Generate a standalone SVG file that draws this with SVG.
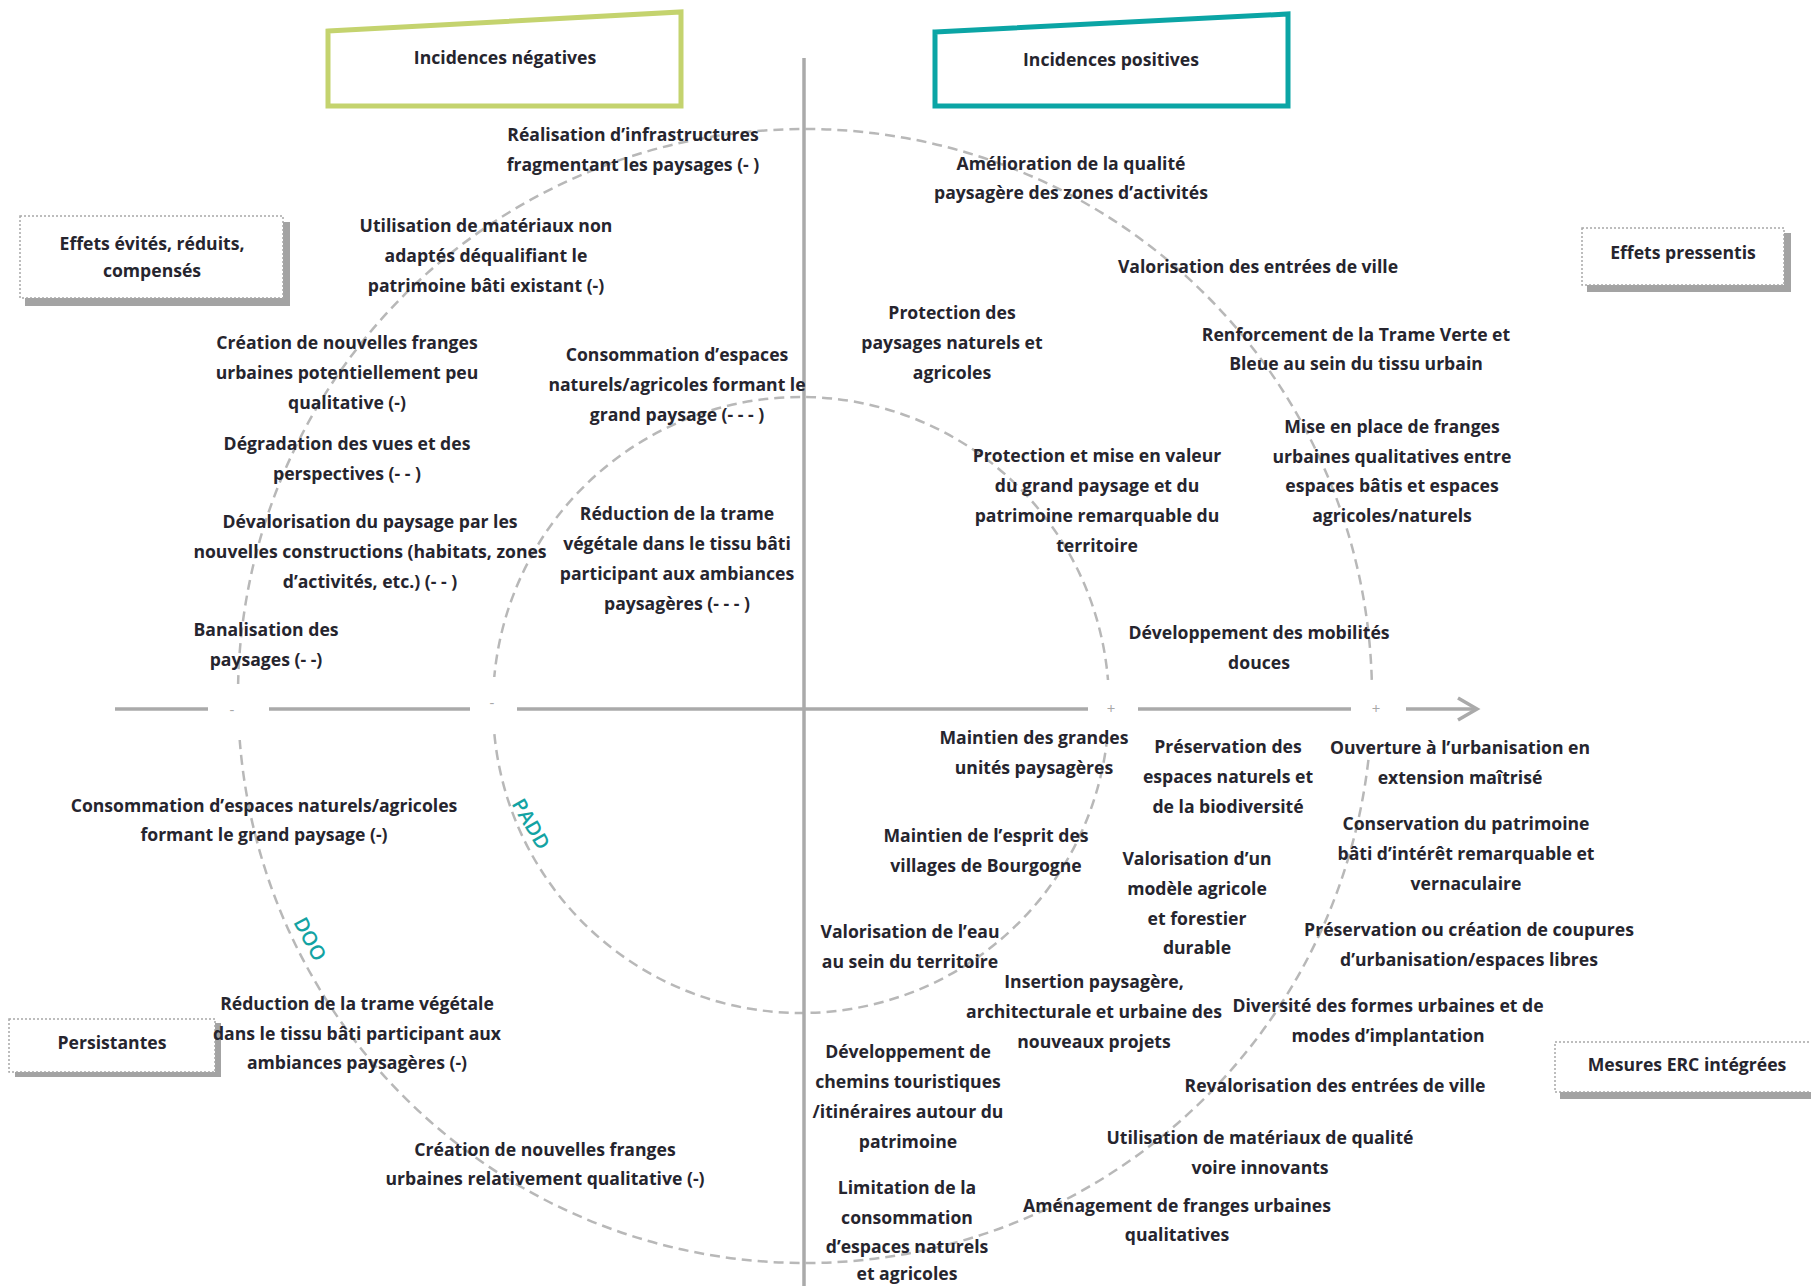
<svg xmlns="http://www.w3.org/2000/svg" width="1811" height="1286" viewBox="0 0 1811 1286">
<style>
.t{font-family:"Open Sans","Liberation Sans",sans-serif;font-size:17.6px;font-weight:700;fill:#26252e;text-anchor:middle}
.lab{font-family:"Open Sans","Liberation Sans",sans-serif;font-size:20px;font-weight:600;fill:#13a3a3;text-anchor:middle}
.mk{font-family:"Open Sans","Liberation Sans",sans-serif;font-size:15px;fill:#a8a8a8;text-anchor:middle}
.circ{fill:none;stroke:#b8b8b8;stroke-width:2.5;stroke-dasharray:10 6}
.axis{stroke:#aaaaaa;stroke-width:3.5;fill:none}
.side{fill:#ffffff;stroke:#a8a8a8;stroke-width:1.5;stroke-dasharray:2 2}
.shadow{fill:#a3a3a3}
</style>
<rect x="0" y="0" width="1811" height="1286" fill="#ffffff"/>
<g id="connectors">
<circle class="circ" cx="805" cy="696" r="567"/>
<circle class="circ" cx="801" cy="705" r="308"/>
<line class="axis" x1="804" y1="58" x2="804" y2="1286"/>
<line class="axis" x1="115" y1="709" x2="208" y2="709"/>
<line class="axis" x1="269" y1="709" x2="470" y2="709"/>
<line class="axis" x1="517" y1="709" x2="1088" y2="709"/>
<line class="axis" x1="1138" y1="709" x2="1351" y2="709"/>
<line class="axis" x1="1406" y1="709" x2="1476" y2="709"/>
<polyline class="axis" points="1458,698 1477,709 1458,720"/>
<rect x="209" y="684" width="59" height="56" fill="#ffffff"/>
<rect x="471" y="677" width="45" height="54" fill="#ffffff"/>
<rect x="1089" y="680" width="48" height="55" fill="#ffffff"/>
<rect x="1352" y="684" width="53" height="56" fill="#ffffff"/>
<text class="mk" x="232" y="715">-</text>
<text class="mk" x="492" y="708">-</text>
<text class="mk" x="1111" y="714">+</text>
<text class="mk" x="1376" y="714">+</text>
<text class="lab" transform="translate(531,824) rotate(60)" y="7">PADD</text>
<text class="lab" transform="translate(310,939) rotate(62)" y="7">DOO</text>
</g>
<g id="head-neg">
<polygon points="328,31 681,12 681,106 328,106" fill="#ffffff" stroke="#c4d36e" stroke-width="5"/>
<text class="t" x="505" y="64">Incidences négatives</text>
</g>
<g id="head-pos">
<polygon points="935,32 1288,14 1288,106 935,106" fill="#ffffff" stroke="#0ba5a5" stroke-width="5"/>
<text class="t" x="1111" y="66">Incidences positives</text>
</g>
<g id="box-evites">
<rect class="shadow" x="283" y="222" width="7" height="84"/>
<rect class="shadow" x="25" y="298" width="265" height="8"/>
<rect class="side" x="20" y="216" width="263" height="82"/>
<text class="t" x="152" y="250">Effets évités, réduits,</text>
<text class="t" x="152" y="277">compensés</text>
</g>
<g id="box-pressentis">
<rect class="shadow" x="1784" y="233" width="7" height="59"/>
<rect class="shadow" x="1587" y="285" width="204" height="7"/>
<rect class="side" x="1582" y="228" width="202" height="57"/>
<text class="t" x="1683" y="259">Effets pressentis</text>
</g>
<g id="box-persistantes">
<rect class="shadow" x="215" y="1023" width="6" height="54"/>
<rect class="shadow" x="15" y="1071" width="206" height="6"/>
<rect class="side" x="9" y="1019" width="206" height="53"/>
<text class="t" x="112" y="1049">Persistantes</text>
</g>
<g id="box-erc">
<rect class="shadow" x="1560" y="1092" width="251" height="7"/>
<rect class="side" x="1555" y="1042" width="262" height="50"/>
<text class="t" x="1687" y="1071">Mesures ERC intégrées</text>
</g>
<g id="n1"><text class="t" x="633" y="141">Réalisation d’infrastructures</text><text class="t" x="633" y="171">fragmentant les paysages (- )</text></g>
<g id="n2"><text class="t" x="486" y="232">Utilisation de matériaux non</text><text class="t" x="486" y="262">adaptés déqualifiant le</text><text class="t" x="486" y="292">patrimoine bâti existant (-)</text></g>
<g id="n3"><text class="t" x="347" y="349">Création de nouvelles franges</text><text class="t" x="347" y="379">urbaines potentiellement peu</text><text class="t" x="347" y="409">qualitative (-)</text></g>
<g id="n4"><text class="t" x="677" y="361">Consommation d’espaces</text><text class="t" x="677" y="391">naturels/agricoles formant le</text><text class="t" x="677" y="421">grand paysage (- - - )</text></g>
<g id="n5"><text class="t" x="347" y="450">Dégradation des vues et des</text><text class="t" x="347" y="480">perspectives (- - )</text></g>
<g id="n6"><text class="t" x="370" y="528">Dévalorisation du paysage par les</text><text class="t" x="370" y="558">nouvelles constructions (habitats, zones</text><text class="t" x="370" y="588">d’activités, etc.) (- - )</text></g>
<g id="n7"><text class="t" x="677" y="520">Réduction de la trame</text><text class="t" x="677" y="550">végétale dans le tissu bâti</text><text class="t" x="677" y="580">participant aux ambiances</text><text class="t" x="677" y="610">paysagères (- - - )</text></g>
<g id="n8"><text class="t" x="266" y="636">Banalisation des</text><text class="t" x="266" y="666">paysages (- -)</text></g>
<g id="n9"><text class="t" x="264" y="812">Consommation d’espaces naturels/agricoles</text><text class="t" x="264" y="841">formant le grand paysage (-)</text></g>
<g id="n10"><text class="t" x="357" y="1010">Réduction de la trame végétale</text><text class="t" x="357" y="1040">dans le tissu bâti participant aux</text><text class="t" x="357" y="1069">ambiances paysagères (-)</text></g>
<g id="n11"><text class="t" x="545" y="1156">Création de nouvelles franges</text><text class="t" x="545" y="1185">urbaines relativement qualitative (-)</text></g>
<g id="n12"><text class="t" x="1071" y="170">Amélioration de la qualité</text><text class="t" x="1071" y="199">paysagère des zones d’activités</text></g>
<g id="n13"><text class="t" x="1258" y="273">Valorisation des entrées de ville</text></g>
<g id="n14"><text class="t" x="952" y="319">Protection des</text><text class="t" x="952" y="349">paysages naturels et</text><text class="t" x="952" y="379">agricoles</text></g>
<g id="n15"><text class="t" x="1356" y="341">Renforcement de la Trame Verte et</text><text class="t" x="1356" y="370">Bleue au sein du tissu urbain</text></g>
<g id="n16"><text class="t" x="1392" y="433">Mise en place de franges</text><text class="t" x="1392" y="463">urbaines qualitatives entre</text><text class="t" x="1392" y="492">espaces bâtis et espaces</text><text class="t" x="1392" y="522">agricoles/naturels</text></g>
<g id="n17"><text class="t" x="1097" y="462">Protection et mise en valeur</text><text class="t" x="1097" y="492">du grand paysage et du</text><text class="t" x="1097" y="522">patrimoine remarquable du</text><text class="t" x="1097" y="552">territoire</text></g>
<g id="n18"><text class="t" x="1259" y="639">Développement des mobilités</text><text class="t" x="1259" y="669">douces</text></g>
<g id="n19"><text class="t" x="1034" y="744">Maintien des grandes</text><text class="t" x="1034" y="774">unités paysagères</text></g>
<g id="n20"><text class="t" x="1228" y="753">Préservation des</text><text class="t" x="1228" y="783">espaces naturels et</text><text class="t" x="1228" y="813">de la biodiversité</text></g>
<g id="n21"><text class="t" x="1460" y="754">Ouverture à l’urbanisation en</text><text class="t" x="1460" y="784">extension maîtrisé</text></g>
<g id="n22"><text class="t" x="986" y="842">Maintien de l’esprit des</text><text class="t" x="986" y="872">villages de Bourgogne</text></g>
<g id="n23"><text class="t" x="1466" y="830">Conservation du patrimoine</text><text class="t" x="1466" y="860">bâti d’intérêt remarquable et</text><text class="t" x="1466" y="890">vernaculaire</text></g>
<g id="n24"><text class="t" x="1197" y="865">Valorisation d’un</text><text class="t" x="1197" y="895">modèle agricole</text><text class="t" x="1197" y="925">et forestier</text><text class="t" x="1197" y="954">durable</text></g>
<g id="n25"><text class="t" x="910" y="938">Valorisation de l’eau</text><text class="t" x="910" y="968">au sein du territoire</text></g>
<g id="n26"><text class="t" x="1469" y="936">Préservation ou création de coupures</text><text class="t" x="1469" y="966">d’urbanisation/espaces libres</text></g>
<g id="n27"><text class="t" x="1094" y="988">Insertion paysagère,</text><text class="t" x="1094" y="1018">architecturale et urbaine des</text><text class="t" x="1094" y="1048">nouveaux projets</text></g>
<g id="n28"><text class="t" x="1388" y="1012">Diversité des formes urbaines et de</text><text class="t" x="1388" y="1042">modes d’implantation</text></g>
<g id="n29"><text class="t" x="908" y="1058">Développement de</text><text class="t" x="908" y="1088">chemins touristiques</text><text class="t" x="908" y="1118">/itinéraires autour du</text><text class="t" x="908" y="1148">patrimoine</text></g>
<g id="n30"><text class="t" x="1335" y="1092">Revalorisation des entrées de ville</text></g>
<g id="n31"><text class="t" x="1260" y="1144">Utilisation de matériaux de qualité</text><text class="t" x="1260" y="1174">voire innovants</text></g>
<g id="n32"><text class="t" x="907" y="1194">Limitation de la</text><text class="t" x="907" y="1224">consommation</text><text class="t" x="907" y="1253">d’espaces naturels</text><text class="t" x="907" y="1280">et agricoles</text></g>
<g id="n33"><text class="t" x="1177" y="1212">Aménagement de franges urbaines</text><text class="t" x="1177" y="1241">qualitatives</text></g>
</svg>
